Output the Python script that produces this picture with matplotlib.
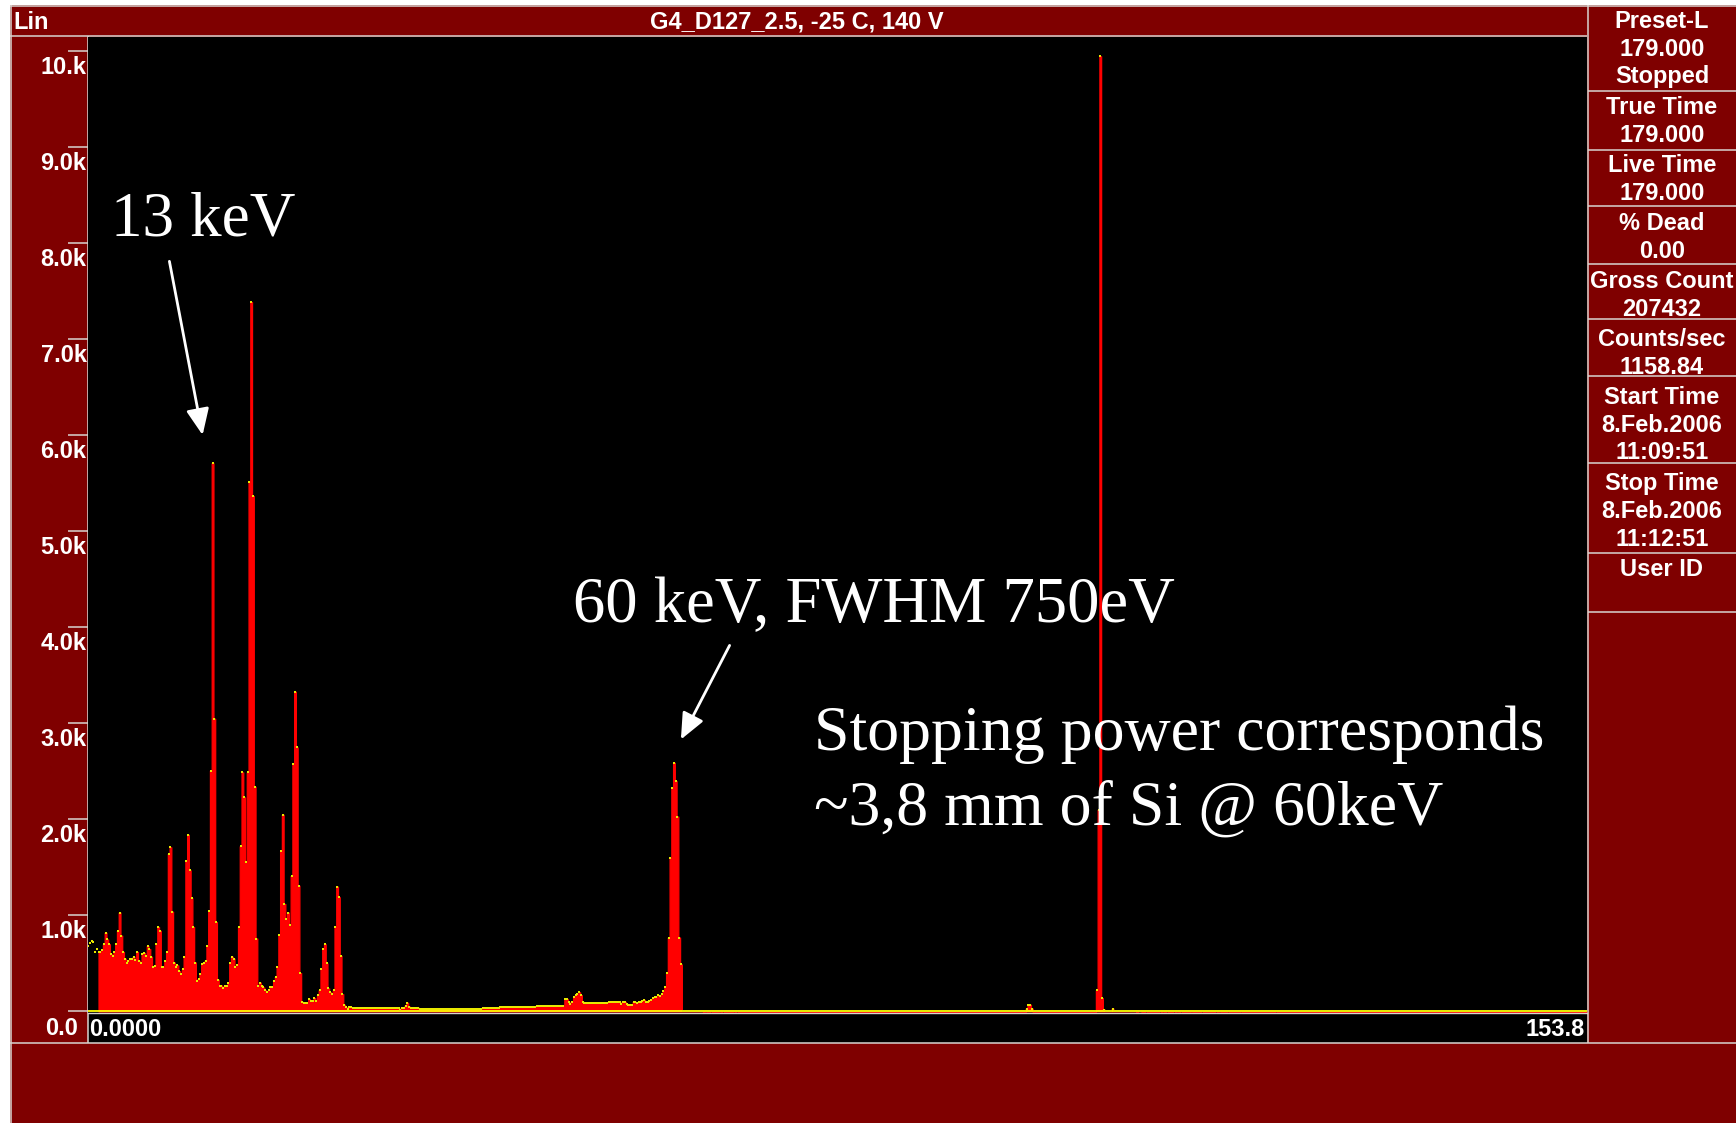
import numpy as np
import matplotlib
matplotlib.use("Agg")
import matplotlib.pyplot as plt
from matplotlib.patches import Rectangle

# ---------------- data ----------------
channel_width_kev = 0.18
n_channels = 855
x_range_kev = (0.0, 153.8)

# channels 0-5 (shown only as dots, no fill)
unfilled_first = [680, 710, 730, 720, 620, 650]

# channels 6-83
low_energy_a = [620, 620, 640, 700, 820, 750, 700, 600, 580, 620,
                700, 840, 1030, 790, 620, 550, 510, 530, 550, 550,
                570, 540, 620, 530, 500, 600, 610, 580, 680, 650,
                570, 460, 470, 700, 880, 840, 460, 460, 530, 620,
                1640, 1710, 1040, 510, 460, 480, 420, 390, 440, 570,
                1570, 1840, 1470, 1180, 880, 510, 320, 340, 390, 490,
                510, 530, 680, 1050, 2510, 5710, 3050, 930, 330, 270,
                270, 240, 270, 270, 300, 500, 570, 550]

# channels 84-150
low_energy_b = [460, 480, 880, 1720, 2490, 2230, 1560, 2490, 5520, 7390,
                5370, 2340, 760, 270, 300, 270, 250, 220, 200, 220,
                250, 250, 320, 360, 460, 800, 1670, 2050, 1120, 960,
                1030, 900, 1410, 2580, 3330, 2750, 1310, 400, 100, 90,
                90, 90, 130, 110, 110, 140, 110, 170, 220, 440,
                650, 700, 500, 240, 200, 180, 220, 880, 1300, 1190,
                580, 180, 70, 45, 30, 50, 45]

# flat background: (first channel, last channel, counts)
background_runs = [(151, 177, 40), (178, 178, 20), (179, 180, 40), (181, 181, 60),
                   (182, 182, 90), (183, 183, 50), (184, 188, 40), (189, 224, 30),
                   (225, 234, 40), (235, 255, 50), (256, 271, 60),
                   (284, 296, 90), (297, 303, 100), (340, 350, 10), (580, 596, 10)]

# small bump, channels 272-283
bump_58 = [130, 130, 100, 80, 100, 150, 170, 180, 200, 170, 100, 90]

# 60 keV peak, channels 304-339
peak_60 = [80, 100, 100, 80, 70, 70, 70, 100, 100, 90,
           100, 100, 110, 120, 100, 100, 110, 120, 140, 150,
           150, 170, 160, 180, 210, 260, 400, 770, 1600, 2330,
           2590, 2400, 2030, 770, 490, 10]

# isolated channels above the 60 keV peak: channel -> counts
sparse_counts = {352: 10, 355: 10, 360: 10, 362: 10, 368: 10, 370: 10,
                 535: 30, 536: 70, 537: 70, 538: 30,
                 575: 220, 576: 2100, 577: 9950, 578: 140, 579: 20,
                 584: 30, 597: 10, 599: 10, 600: 10, 603: 10, 611: 10, 613: 10,
                 615: 10, 619: 10, 621: 10, 623: 10, 629: 10, 635: 10, 643: 10,
                 645: 10, 650: 10, 657: 10, 677: 10}

y_ticks = [0, 1000, 2000, 3000, 4000, 5000, 6000, 7000, 8000, 9000, 10000]
y_tick_labels = ["0.0", "1.0k", "2.0k", "3.0k", "4.0k", "5.0k",
                 "6.0k", "7.0k", "8.0k", "9.0k", "10.k"]
x_ticks = [0.0, 153.8]
x_tick_labels = ["0.0000", "153.8"]

title = "G4_D127_2.5, -25 C, 140 V"
scale_mode = "Lin"
panel_boxes = [["Preset-L", "179.000", "Stopped"],
               ["True Time", "179.000"],
               ["Live Time", "179.000"],
               ["% Dead", "0.00"],
               ["Gross Count", "207432"],
               ["Counts/sec", "1158.84"],
               ["Start Time", "8.Feb.2006", "11:09:51"],
               ["Stop Time", "8.Feb.2006", "11:12:51"],
               ["User ID"]]

label_13 = "13 keV"
label_60 = "60 keV, FWHM 750eV"
label_stop = ["Stopping power corresponds", "~3,8 mm of Si @ 60keV"]

# ---------------- build spectrum ----------------
counts = np.zeros(n_channels)
counts[0:6] = unfilled_first
counts[6:84] = low_energy_a
counts[84:151] = low_energy_b
for a, b, v in background_runs:
    counts[a:b + 1] = v
counts[272:284] = bump_58
counts[304:340] = peak_60
for ch, v in sparse_counts.items():
    counts[ch] = v
energy = np.arange(n_channels) * channel_width_kev

# ---------------- figure ----------------
W, H, DPI = 1736, 1123, 100
DARK_RED = "#7F0000"
GRID = "#D8D4D0"
GUI_FONT = ["Liberation Sans", "DejaVu Sans"]
SERIF = ["Liberation Serif", "DejaVu Serif"]
plt.rcParams["font.family"] = GUI_FONT

fig = plt.figure(figsize=(W / DPI, H / DPI), dpi=DPI, facecolor="white")

bg = fig.add_axes([0, 0, 1, 1])
bg.set_xlim(0, W)
bg.set_ylim(H, 0)
bg.axis("off")
bg.set_zorder(0)
bg.add_patch(Rectangle((10, 5), W - 10, H - 5, color=DARK_RED, lw=0))
bg.add_patch(Rectangle((88, 37), 1587 - 88, 1043 - 37, color="black", lw=0))


def hline(y, x0, x1, lw=1.1):
    bg.plot([x0, x1], [y, y], color=GRID, lw=lw, solid_capstyle="butt")


def vline(x, y0, y1, lw=1.1):
    bg.plot([x, x], [y0, y1], color=GRID, lw=lw, solid_capstyle="butt")


hline(5.5, 10, W)
vline(10.5, 5, H)
hline(36, 10, 1587)
hline(1043, 10, W)
vline(87.5, 36, 1043)
vline(1587.5, 5, 1043)
for ysep in [90.5, 150, 206, 264, 319, 376, 463, 553, 612]:
    hline(ysep, 1588, W)

bg.text(13, 29, scale_mode, color="white", fontsize=17, fontweight="bold",
        ha="left", va="baseline")
bg.text(797, 29, title, color="white", fontsize=17, fontweight="bold",
        ha="center", va="baseline")

line_centers = [[20, 47.5, 75], [106, 133.5], [164, 191.5], [221, 249],
                [280, 308], [338, 365], [395, 423, 450.5],
                [481.5, 509, 538], [568]]
for box, ys in zip(panel_boxes, line_centers):
    for txt, yc in zip(box, ys):
        bg.text(1662, yc + 8.5, txt, color="white", fontsize=17,
                fontweight="bold", ha="center", va="baseline")

# ---------------- spectrum axes ----------------
top_px, bot_px = 37, 1013
ax = fig.add_axes([88 / W, 1 - bot_px / H, (1587 - 88) / W, (bot_px - top_px) / H])
ax.set_zorder(1)
ax.set_facecolor("black")
ax.set_xlim(*x_range_kev)
ax.set_ylim(-16, (1011.5 - top_px) / 96.0 * 1000)

ax.fill_between(energy[6:], 0, counts[6:], step="mid", facecolor="#FF0000",
                edgecolor="#FF0000", lw=0.9)
ax.axhline(0, color="#FFFF00", lw=1.3, zorder=3)
ax.plot(energy, counts, ls="none", marker="s", ms=1.6, mew=0,
        color="#E8E800", zorder=4)

for side in ["top", "left", "right"]:
    ax.spines[side].set_visible(False)
ax.spines["bottom"].set_color(GRID)
ax.spines["bottom"].set_linewidth(1.0)

# y ticks: marks from the axis, labels placed through the data scale
ax.set_yticks(y_ticks, [""] * len(y_ticks))
ax.tick_params(axis="y", direction="out", length=20 * 0.72, width=1.1,
               color=GRID)
for v, lab in zip(y_ticks, y_tick_labels):
    if v == 0:
        off = (-10, -17)
    else:
        off = (-1.5, -16)
    ax.annotate(lab, xy=(0, v), xycoords=("axes fraction", "data"),
                xytext=off, textcoords="offset pixels", ha="right",
                va="center", color="white", fontsize=17, fontweight="bold",
                annotation_clip=False)

# x labels
ax.set_xticks(x_ticks, [""] * len(x_ticks))
ax.tick_params(axis="x", length=0)
for v, lab, ha, dx in zip(x_ticks, x_tick_labels, ["left", "right"], [1.5, -2]):
    ax.annotate(lab, xy=(v, 0), xycoords=("data", "axes fraction"),
                xytext=(dx, -16), textcoords="offset pixels", ha=ha,
                va="center", color="white", fontsize=17, fontweight="bold",
                annotation_clip=False)

# ---------------- annotations ----------------
ov = fig.add_axes([0, 0, 1, 1], facecolor="none")
ov.set_xlim(0, W)
ov.set_ylim(H, 0)
ov.axis("off")
ov.set_zorder(3)

ov.text(111, 236, label_13, color="white", fontsize=45.5, family=SERIF,
        ha="left", va="baseline")
ov.text(573, 622, label_60, color="white", fontsize=46.5, family=SERIF,
        ha="left", va="baseline")
ov.text(814, 749.5, label_stop[0], color="white", fontsize=46, family=SERIF,
        ha="left", va="baseline")
ov.text(814, 825, label_stop[1], color="white", fontsize=46, family=SERIF,
        ha="left", va="baseline")

arrow_style = dict(arrowstyle="-|>,head_length=0.8,head_width=0.35",
                   color="white", lw=2, mutation_scale=20,
                   shrinkA=0, shrinkB=0)
ov.annotate("", xy=(202.6, 435), xytext=(169.4, 261.3), arrowprops=arrow_style)
ov.annotate("", xy=(680.9, 739.5), xytext=(729.6, 645.4), arrowprops=arrow_style)

fig.savefig("out.png", dpi=DPI, facecolor="white")
